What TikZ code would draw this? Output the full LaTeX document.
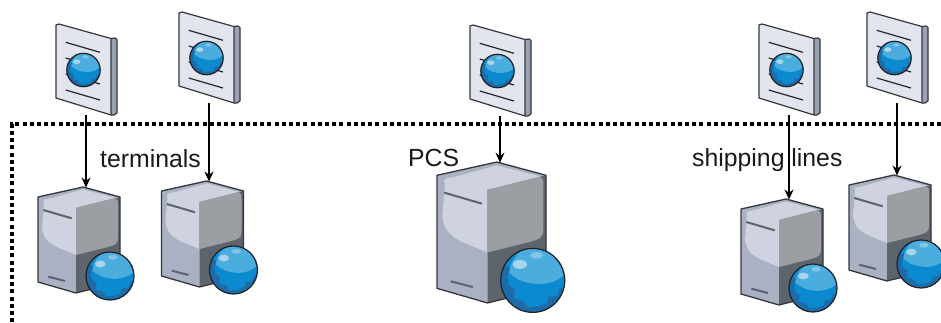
\documentclass[tikz,border=0pt]{standalone}
\usepackage{fontspec}
\setmainfont{Liberation Sans}
\usetikzlibrary{arrows.meta}
\definecolor{edgeC}{HTML}{33373D}
\definecolor{baseC}{HTML}{A9B1C2}
\definecolor{litC}{HTML}{CFD3E0}
\definecolor{rightC}{HTML}{9B9EA3}
\definecolor{darkC}{HTML}{5D646C}
\definecolor{pageC}{HTML}{E3E5EE}
\definecolor{sideC}{HTML}{9AA2B2}
\definecolor{globeC}{HTML}{0C8AD0}
\definecolor{globeD}{HTML}{1D6CA8}
\definecolor{globeL}{HTML}{4BADDE}
\definecolor{globeH}{HTML}{A9D5EA}
\tikzset{
  flow/.style={draw=black,line width=1.1pt,-{Stealth[length=10pt,width=9pt]}},
  boundary/.style={draw=black,line width=4pt,dash pattern=on 4pt off 3.2pt},
  caption/.style={inner sep=0pt,anchor=base west,font=\fontsize{24.8}{28}\selectfont,text=black!90},
  globe/.pic={
    \fill[globeC] (0,0) circle[radius=1];
    \begin{scope}
      \clip (0,0) circle[radius=1];
      \fill[globeL] (-.75,-.25) .. controls (-.5,.02) and (-.1,.12) .. (.25,.12)
        .. controls (.55,.1) and (.8,0) .. (.95,-.15)
        .. controls (.85,-.7) and (.4,-1) .. (0,-1.05)
        .. controls (-.4,-1) and (-.65,-.7) .. (-.75,-.25) -- cycle;
      \fill[globeD] (-1.05,-.5) -- (-.7,-.4) -- (-.8,-.1) -- (-.75,.15) -- (-.55,.3)
        -- (-.6,.55) -- (-.3,.65) -- (-.15,.85) -- (.25,.8) -- (.45,.7) -- (.5,.5)
        -- (.75,.5) -- (.85,.25) -- (1.05,.2) -- (1.05,1.05) -- (-1.05,1.05) -- cycle;
      \fill[globeH] (-.4,-.5) ellipse[x radius=.22,y radius=.14];
      \fill[globeL!70!white] (.12,-.78) ellipse[x radius=.2,y radius=.1];
    \end{scope}
    \draw[edgeC!60!black,line width=1.2pt] (0,0) circle[radius=1];
  },
  docicon/.pic={
    \fill[sideC] (55,14.5) -- (59,14) -- (61,15.5) -- (61,89) -- (58,91) -- (55,91) -- cycle;
    \draw[edgeC,line width=1.2pt,line join=round] (55,14.5) -- (59,14) -- (61,15.5) -- (61,89) -- (58,91) -- (55,91);
    \draw[edgeC,fill=pageC,line width=1.2pt,line join=round] (3,0) -- (0,1) -- (0,74) -- (55,91) -- (55,14.5) -- cycle;
    \draw[black!85,line width=1.2pt] (9.7,18.3) -- (44,28.3) (9.7,34) -- (44,44) (9.7,50) -- (44,60) (9.7,66) -- (44,76);
    \pic[scale=16.7] at (27.5,46) {globe};
    \coordinate (-bot) at (30,91);
  },
  serverbox/.pic={
    \fill[baseC] (0,10) -- (45,0) -- (82,10) -- (82,95) -- (38,106) -- (0,95) -- cycle;
    \fill[litC] (6,16) .. controls (3,12) and (10,12) .. (14,11) -- (45,2.5)
      -- (78,11) -- (38,21) -- (38,68) .. controls (20,60) and (5,58) .. (4,40) -- cycle;
    \fill[darkC] (38,21) -- (82,10) -- (82,95) -- (38,106) -- cycle;
    \fill[rightC] (38,21) -- (77,11) .. controls (80,12) and (80,14) .. (80,18)
      -- (80,50) .. controls (80,58) and (76,58) .. (70,60) -- (38,68) -- cycle;
    \draw[edgeC,line width=1.3pt,line join=round] (0,10) -- (45,0) -- (82,10) -- (82,95) -- (38,106) -- (0,95) -- cycle;
    \draw[darkC,line width=2pt] (5.3,23) -- (33.7,31.3) (10.3,89.7) -- (27,94);
    \pic[scale=#1] at (72,89) {globe};
    \coordinate (-top) at (48,0.5);
  }
}
\begin{document}
\begin{tikzpicture}[x=1pt,y=-1pt]
  \useasboundingbox (0,0) rectangle (941,322);
  \clip (0,0) rectangle (941,322);
  \draw[boundary] (941,124) -- (12,124) -- (12,322);

  \pic (d1) at (56,24) {docicon};
  \pic (d2) at (179,12) {docicon};
  \pic (d3) at (470,25) {docicon};
  \pic (d4) at (759,24) {docicon};
  \pic (d5) at (867,12) {docicon};

  \pic (s1) at (38,187) {serverbox=24};
  \pic (s2) at (161.5,181) {serverbox=24};
  \pic[scale=1.33] (s3) at (437,162) {serverbox=32};
  \pic (s4) at (741,199) {serverbox=24};
  \pic (s5) at (849,175) {serverbox=24};

  \node[caption] (t1) at (100,167) {terminals};
  \node[caption] (t2) at (408,166) {PCS};
  \node[caption] (t3) at (692,166) {shipping lines};

  \draw[flow] (d1-bot) -- (d1-bot |- s1-top);
  \draw[flow] (d2-bot) -- (d2-bot |- s2-top);
  \draw[flow] (d3-bot) -- (d3-bot |- s3-top);
  \draw[flow] (d4-bot) -- (d4-bot |- s4-top);
  \draw[flow] (d5-bot) -- (d5-bot |- s5-top);
\end{tikzpicture}
\end{document}
